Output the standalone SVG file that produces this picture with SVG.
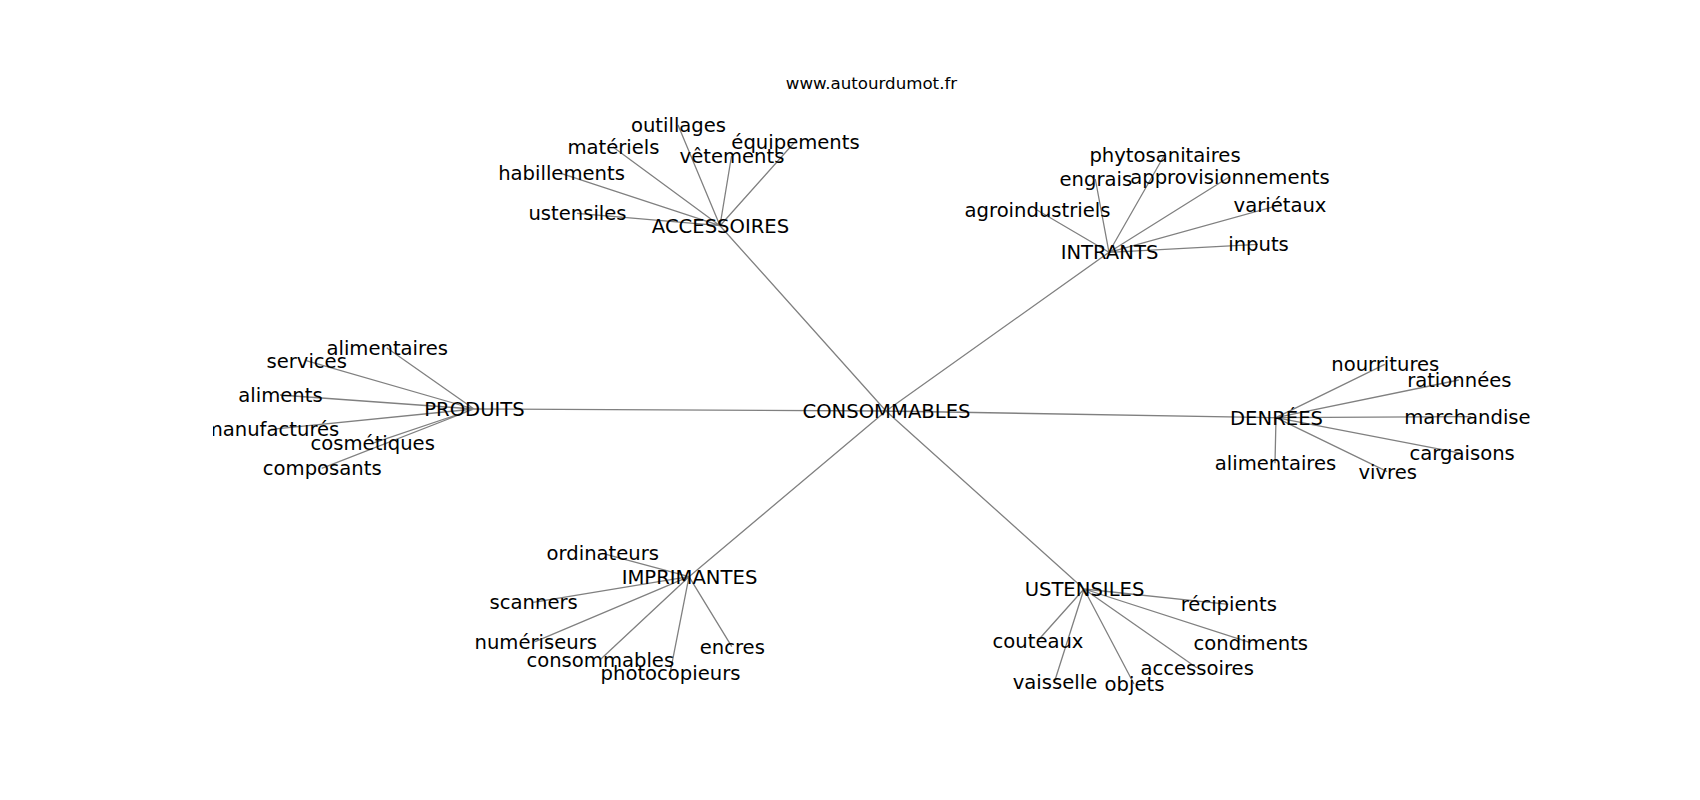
<svg xmlns="http://www.w3.org/2000/svg" width="1700" height="800" viewBox="0 0 1700 800">
<style>
.e{stroke:#808080;stroke-width:1.3;fill:none}
.t{font-family:"DejaVu Sans",sans-serif;font-size:19.6px;fill:#000;text-anchor:middle}
.title{font-family:"DejaVu Sans",sans-serif;font-size:16.67px;fill:#000;text-anchor:middle}
</style>
<defs><clipPath id="ax"><rect x="212.5" y="96" width="1317.5" height="616"/></clipPath></defs>
<rect width="1700" height="800" fill="#fff"/>
<text class="title" x="871.5" y="89">www.autourdumot.fr</text>
<g id="connectors" clip-path="url(#ax)">
<path class="e" d="M886 411L720 225.7M886 411L1109 252.3M886 411L474 409M886 411L1276 417.7M886 411L689 576.7M886 411L1084 589"/>
<path class="e" d="M720 225.7L678 125M720 225.7L613 147M720 225.7L795 141.7M720 225.7L731.5 156M720 225.7L561 173.3M720 225.7L577 213.3"/>
<path class="e" d="M1109 252.3L1164.5 155M1109 252.3L1095.3 179M1109 252.3L1229.5 176.7M1109 252.3L1037 210M1109 252.3L1279.5 205M1109 252.3L1258 244.3"/>
<path class="e" d="M474 409L386.7 347.7M474 409L306.2 360.7M474 409L280 395M474 409L271 429.3M474 409L372.2 443.3M474 409L321.7 468.3"/>
<path class="e" d="M1276 417.7L1384.8 364.3M1276 417.7L1458.8 380M1276 417.7L1471.2 416.7M1276 417.7L1461.7 453.3M1276 417.7L1387.2 471.7M1276 417.7L1275 463.3"/>
<path class="e" d="M689 576.7L602.3 553.3M689 576.7L533.2 602.3M689 576.7L535.2 641.7M689 576.7L599.8 660M689 576.7L670 673.3M689 576.7L731.8 646.7"/>
<path class="e" d="M1084 589L1228.3 604.3M1084 589L1037.5 641M1084 589L1250.3 642.7M1084 589L1196.7 667.7M1084 589L1054.5 681.7M1084 589L1134 684"/>
</g>
<g clip-path="url(#ax)" transform="translate(0.5 2)">
<g id="n-consommables"><text class="t" x="886" y="416">CONSOMMABLES</text></g>
<g id="n-accessoires"><text class="t" x="720" y="230.7">ACCESSOIRES</text></g>
<g id="n-intrants"><text class="t" x="1109" y="257.3">INTRANTS</text></g>
<g id="n-produits"><text class="t" x="474" y="414">PRODUITS</text></g>
<g id="n-denrees"><text class="t" x="1276" y="422.7">DENRÉES</text></g>
<g id="n-imprimantes"><text class="t" x="689" y="581.7">IMPRIMANTES</text></g>
<g id="n-ustensiles"><text class="t" x="1084" y="594">USTENSILES</text></g>

<g id="n-outillages"><text class="t" x="678" y="130">outillages</text></g>
<g id="n-materiels"><text class="t" x="613" y="152">matériels</text></g>
<g id="n-equipements"><text class="t" x="795" y="146.7">équipements</text></g>
<g id="n-vetements"><text class="t" x="731.5" y="161">vêtements</text></g>
<g id="n-habillements"><text class="t" x="561" y="178.3">habillements</text></g>
<g id="n-ustensiles2"><text class="t" x="577" y="218.3">ustensiles</text></g>

<g id="n-phyto"><text class="t" x="1164.5" y="160">phytosanitaires</text></g>
<g id="n-engrais"><text class="t" x="1095.3" y="184">engrais</text></g>
<g id="n-appro"><text class="t" x="1229.5" y="181.7">approvisionnements</text></g>
<g id="n-agro"><text class="t" x="1037" y="215">agroindustriels</text></g>
<g id="n-varietaux"><text class="t" x="1279.5" y="210">variétaux</text></g>
<g id="n-inputs"><text class="t" x="1258" y="249.3">inputs</text></g>

<g id="n-alimentaires1"><text class="t" x="386.7" y="352.7">alimentaires</text></g>
<g id="n-services"><text class="t" x="306.2" y="365.7">services</text></g>
<g id="n-aliments"><text class="t" x="280" y="400">aliments</text></g>
<g id="n-manufactures"><text class="t" x="271" y="434.3">manufacturés</text></g>
<g id="n-cosmetiques"><text class="t" x="372.2" y="448.3">cosmétiques</text></g>
<g id="n-composants"><text class="t" x="321.7" y="473.3">composants</text></g>

<g id="n-nourritures"><text class="t" x="1384.8" y="369.3">nourritures</text></g>
<g id="n-rationnees"><text class="t" x="1458.8" y="385">rationnées</text></g>
<g id="n-marchandises"><text class="t" x="1472" y="421.7">marchandises</text></g>
<g id="n-cargaisons"><text class="t" x="1461.7" y="458.3">cargaisons</text></g>
<g id="n-vivres"><text class="t" x="1387.2" y="476.7">vivres</text></g>
<g id="n-alimentaires2"><text class="t" x="1275" y="468.3">alimentaires</text></g>

<g id="n-ordinateurs"><text class="t" x="602.3" y="558.3">ordinateurs</text></g>
<g id="n-scanners"><text class="t" x="533.2" y="607.3">scanners</text></g>
<g id="n-numeriseurs"><text class="t" x="535.2" y="646.7">numériseurs</text></g>
<g id="n-consommables2"><text class="t" x="599.8" y="665">consommables</text></g>
<g id="n-photocopieurs"><text class="t" x="670" y="678.3">photocopieurs</text></g>
<g id="n-encres"><text class="t" x="731.8" y="651.7">encres</text></g>

<g id="n-recipients"><text class="t" x="1228.3" y="609.3">récipients</text></g>
<g id="n-couteaux"><text class="t" x="1037.5" y="646">couteaux</text></g>
<g id="n-condiments"><text class="t" x="1250.3" y="647.7">condiments</text></g>
<g id="n-accessoires2"><text class="t" x="1196.7" y="672.7">accessoires</text></g>
<g id="n-vaisselle"><text class="t" x="1054.5" y="686.7">vaisselle</text></g>
<g id="n-objets"><text class="t" x="1134" y="689">objets</text></g>
</g>
</svg>
